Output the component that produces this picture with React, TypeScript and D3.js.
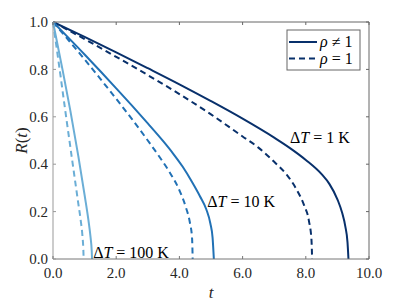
import React, {useEffect, useRef} from 'react';
import {select, scaleLinear, line, curveMonotoneX, range} from 'd3';

// curve data, t and R(t)
const t1K_neq = [0, 1, 2, 3, 4, 5, 6, 7, 7.5, 8, 8.5, 8.75, 9.0, 9.15, 9.25, 9.32, 9.35];
const R1K_neq = [1, 0.937, 0.872, 0.805, 0.737, 0.666, 0.592, 0.512, 0.468, 0.418, 0.358, 0.316, 0.252, 0.195, 0.138, 0.07, 0];
const t1K_eq = [0, 1, 2, 3, 4, 5, 6, 6.5, 7, 7.4, 7.7, 7.95, 8.1, 8.18, 8.2];
const R1K_eq = [1, 0.928, 0.853, 0.776, 0.696, 0.61, 0.517, 0.47, 0.41, 0.355, 0.295, 0.225, 0.16, 0.08, 0];
const t10K_neq = [0, 0.5, 1, 1.5, 2, 2.5, 3, 3.5, 3.8, 4.1, 4.4, 4.65, 4.85, 4.98, 5.05, 5.09];
const R10K_neq = [1, 0.932, 0.863, 0.792, 0.72, 0.647, 0.572, 0.495, 0.445, 0.39, 0.325, 0.265, 0.21, 0.15, 0.09, 0];
const t10K_eq = [0, 0.5, 1, 1.5, 2, 2.5, 3, 3.4, 3.7, 4.0, 4.2, 4.33, 4.4, 4.42];
const R10K_eq = [1, 0.922, 0.842, 0.76, 0.676, 0.59, 0.5, 0.425, 0.364, 0.29, 0.22, 0.155, 0.09, 0];
const t100K_neq = [0, 0.3, 0.55, 0.8, 1.0, 1.12, 1.19, 1.225, 1.235];
const R100K_neq = [1, 0.8, 0.625, 0.435, 0.27, 0.165, 0.09, 0.035, 0];
const t100K_eq = [0, 0.2, 0.41, 0.62, 0.8, 0.88, 0.93, 0.96, 0.97];
const R100K_eq = [1, 0.81, 0.605, 0.405, 0.235, 0.16, 0.1, 0.04, 0];

const xTicks = [0, 2, 4, 6, 8, 10];
const yTicks = [0, 0.2, 0.4, 0.6, 0.8, 1.0];

const series = [
    {t: t1K_neq, R: R1K_neq, color: "#08306b", dashed: false},
    {t: t1K_eq, R: R1K_eq, color: "#08306b", dashed: true},
    {t: t10K_neq, R: R10K_neq, color: "#2171b5", dashed: false},
    {t: t10K_eq, R: R10K_eq, color: "#2171b5", dashed: true},
    {t: t100K_neq, R: R100K_neq, color: "#6baed6", dashed: false},
    {t: t100K_eq, R: R100K_eq, color: "#6baed6", dashed: true},
];

// annotations: label value, anchor point in data coords
const labels = [
    {text: "1", x: 7.5, y: 0.49},
    {text: "10", x: 4.88, y: 0.22},
    {text: "100", x: 1.27, y: 0.005},
];

export default function App() {
    const ref = useRef<SVGSVGElement>(null);

    useEffect(() => {
        const W = 407, H = 305;
        const margin = {top: 22, right: 38, bottom: 46, left: 53};
        const width = W - margin.left - margin.right;
        const height = H - margin.top - margin.bottom;

        const svg = select(ref.current);
        svg.selectAll("*").remove();

        const g = svg.append("g")
            .attr("transform", "translate(" + margin.left + "," + margin.top + ")");

        const x = scaleLinear().domain([0, 10]).range([0, width]);
        const y = scaleLinear().domain([0, 1]).range([height, 0]);

        // curves
        series.forEach(s => {
            const pts = s.t.map((t, i) => [t, s.R[i]] as [number, number]);
            g.append("path")
                .datum(pts)
                .attr("fill", "none")
                .attr("stroke", s.color)
                .attr("stroke-width", 2)
                .attr("stroke-dasharray", s.dashed ? "6,4" : null)
                .attr("d", line<[number, number]>()
                    .x(d => x(d[0]))
                    .y(d => y(d[1]))
                    .curve(curveMonotoneX));
        });

        // box
        g.append("line").attr("x1", 0).attr("x2", width).attr("y1", 0).attr("y2", 0).attr("stroke", "#666");
        g.append("line").attr("x1", width).attr("x2", width).attr("y1", 0).attr("y2", height).attr("stroke", "#666");
        g.append("line").attr("x1", 0).attr("x2", width).attr("y1", height).attr("y2", height).attr("stroke", "#777");
        g.append("line").attr("x1", 0).attr("x2", 0).attr("y1", 0).attr("y2", height).attr("stroke", "#999");

        // ticks inward
        xTicks.forEach(v => {
            g.append("line").attr("x1", x(v)).attr("x2", x(v)).attr("y1", height).attr("y2", height - 3).attr("stroke", "#777");
            g.append("line").attr("x1", x(v)).attr("x2", x(v)).attr("y1", 0).attr("y2", 3).attr("stroke", "#666");
            g.append("text")
                .attr("x", x(v)).attr("y", height + 19)
                .attr("text-anchor", "middle")
                .attr("font-size", 15).attr("fill", "#262626")
                .text(v.toFixed(1));
        });
        yTicks.forEach(v => {
            g.append("line").attr("x1", 0).attr("x2", 3).attr("y1", y(v)).attr("y2", y(v)).attr("stroke", "#999");
            g.append("line").attr("x1", width).attr("x2", width - 3).attr("y1", y(v)).attr("y2", y(v)).attr("stroke", "#666");
            g.append("text")
                .attr("x", -5).attr("y", y(v))
                .attr("dy", "0.35em")
                .attr("text-anchor", "end")
                .attr("font-size", 15).attr("fill", "#262626")
                .text(v.toFixed(1));
        });

        // axis labels
        const xl = svg.append("text")
            .attr("x", margin.left + width / 2).attr("y", 298)
            .attr("text-anchor", "middle")
            .attr("font-size", 17).attr("fill", "#262626");
        xl.append("tspan").attr("font-style", "italic").text("t");

        const yl = svg.append("text")
            .attr("transform", "translate(27," + (margin.top + height / 2) + ") rotate(-90)")
            .attr("text-anchor", "middle")
            .attr("font-size", 17).attr("fill", "#262626");
        yl.append("tspan").attr("font-style", "italic").text("R");
        yl.append("tspan").text("(");
        yl.append("tspan").attr("font-style", "italic").text("t");
        yl.append("tspan").text(")");

        // curve annotations
        labels.forEach(l => {
            const txt = g.append("text")
                .attr("x", x(l.x)).attr("y", y(l.y))
                .attr("font-size", 16).attr("fill", "#000");
            txt.append("tspan").text("Δ");
            txt.append("tspan").attr("font-style", "italic").text("T");
            txt.append("tspan").text(" = " + l.text + " K");
        });

        // legend
        const lg = g.append("g").attr("transform", "translate(" + (width - 82) + ",8)");
        lg.append("rect")
            .attr("width", 73).attr("height", 40)
            .attr("fill", "#fff").attr("stroke", "#666").attr("stroke-width", 1);
        range(2).forEach(i => {
            const ly = 12 + i * 16.5;
            lg.append("line")
                .attr("x1", 2).attr("x2", 30).attr("y1", ly).attr("y2", ly)
                .attr("stroke", "#08306b").attr("stroke-width", 2)
                .attr("stroke-dasharray", i === 1 ? "6,4" : null);
            const tx = lg.append("text")
                .attr("x", 33).attr("y", ly + 5)
                .attr("font-size", 16).attr("fill", "#000");
            tx.append("tspan").attr("font-style", "italic").text("ρ");
            tx.append("tspan").text(i === 0 ? " ≠ 1" : " = 1");
        });
    }, []);

    return (
        <svg ref={ref} width={407} height={305}
             style={{position: "absolute", left: 0, top: 0, background: "#fff",
                     fontFamily: "'Liberation Serif', 'Times New Roman', serif"}} />
    );
}
